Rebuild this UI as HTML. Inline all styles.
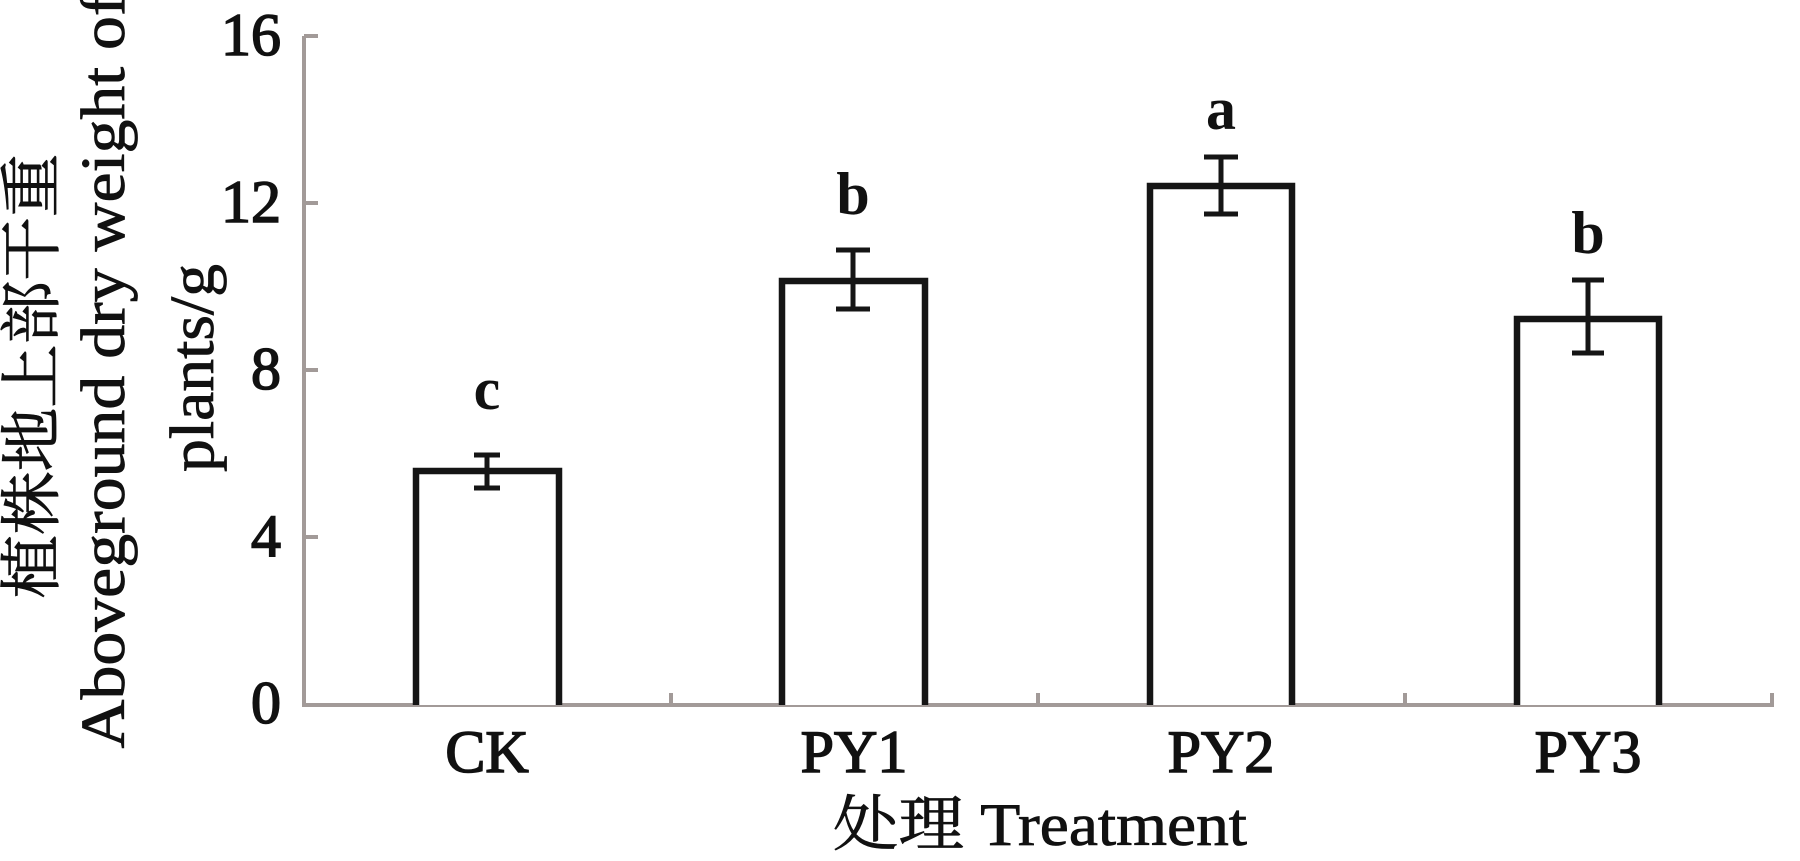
<!DOCTYPE html>
<html><head><meta charset="utf-8"><style>html,body{margin:0;padding:0;background:#fff}svg{display:block}</style></head>
<body>
<svg width="1800" height="861" viewBox="0 0 1800 861" xmlns="http://www.w3.org/2000/svg" font-family="'Liberation Serif','Noto Serif CJK SC',serif" fill="#111">
<g stroke="#a29a98" stroke-width="4" fill="none">
<line x1="304" y1="36" x2="304" y2="706"/>
<line x1="302" y1="705" x2="1774" y2="705"/>
<line x1="304" y1="36" x2="318" y2="36"/>
<line x1="304" y1="203" x2="318" y2="203"/>
<line x1="304" y1="370" x2="318" y2="370"/>
<line x1="304" y1="537" x2="318" y2="537"/>
<line x1="671" y1="705" x2="671" y2="693"/>
<line x1="1038" y1="705" x2="1038" y2="693"/>
<line x1="1405" y1="705" x2="1405" y2="693"/>
<line x1="1772" y1="705" x2="1772" y2="693"/>
</g>
<g font-size="60" text-anchor="end" stroke="#111" stroke-width="1.6">
<text x="281" y="55">16</text>
<text x="281" y="222">12</text>
<text x="281" y="389">8</text>
<text x="281" y="556">4</text>
<text x="281" y="723">0</text>
</g>
<g stroke="#151515" stroke-width="6.5" fill="#fff">
<path d="M416 705 V471 H559 V705"/>
<path d="M782 705 V281 H925 V705"/>
<path d="M1150 705 V186 H1292 V705"/>
<path d="M1517 705 V319 H1659 V705"/>
</g>
<g stroke="#151515" stroke-width="5" fill="none">
<path d="M487 455 V488 M474 455 H500 M474 488 H500"/>
<path d="M853 250 V309 M836 250 H870 M836 309 H870"/>
<path d="M1221 157 V214 M1204 157 H1238 M1204 214 H1238"/>
<path d="M1588 280 V353 M1572 280 H1604 M1572 353 H1604"/>
</g>
<g font-size="60" font-weight="bold" text-anchor="middle">
<text x="487" y="409">c</text>
<text x="853" y="214">b</text>
<text x="1221" y="129">a</text>
<text x="1588" y="253">b</text>
</g>
<g font-size="60" text-anchor="middle" stroke="#111" stroke-width="1.6">
<text x="487" y="772">CK</text>
<text x="854" y="772">PY1</text>
<text x="1221" y="772">PY2</text>
<text x="1588" y="772">PY3</text>
</g>
<g font-size="60" text-anchor="middle" stroke="#111" stroke-width="0.8">
<text x="1040" y="845" textLength="414" lengthAdjust="spacingAndGlyphs">处理 Treatment</text>
</g>
<g font-size="62" text-anchor="middle" stroke="#111" stroke-width="0.8">
<text transform="translate(53,376) rotate(-90)" textLength="445" lengthAdjust="spacingAndGlyphs">植株地上部干重</text>
<text transform="translate(124,371) rotate(-90)" textLength="755" lengthAdjust="spacingAndGlyphs">Aboveground dry weight of</text>
<text transform="translate(213,368) rotate(-90)" textLength="208" lengthAdjust="spacingAndGlyphs">plants/g</text>
</g>
</svg>
</body></html>
